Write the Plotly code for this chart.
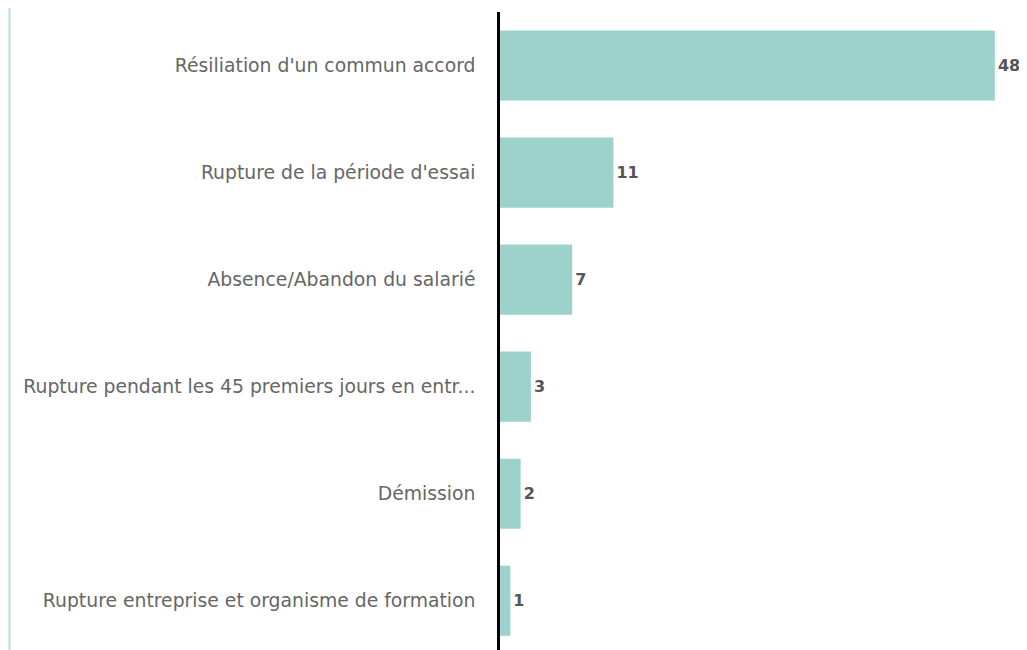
import plotly.graph_objects as go

# categories, top to bottom
motifs = [
    "Résiliation d'un commun accord",
    "Rupture de la période d'essai",
    "Absence/Abandon du salarié",
    "Rupture pendant les 45 premiers jours en entr...",
    "Démission",
    "Rupture entreprise et organisme de formation",
]
nombres = [48, 11, 7, 3, 2, 1]

# page has an 8px body margin, so the figure is a bit smaller than the window
W, H = 1019, 642
left, right, top = 492, 17, 4
plot_w = W - left - right

fig = go.Figure(go.Bar(
    x=nombres,
    y=motifs,
    orientation="h",
    marker=dict(color="#9dd1cc", line=dict(width=0)),
    text=nombres,
    textposition="outside",
    texttemplate="<b>%{text}</b>",
    textfont=dict(family="DejaVu Sans", size=16, color="#555555"),
    cliponaxis=False,
    width=0.655,
))

fig.update_layout(
    width=W, height=H,
    margin=dict(l=left, r=right, t=top, b=0),
    paper_bgcolor="white",
    plot_bgcolor="white",
    showlegend=False,
    xaxis=dict(range=[0, plot_w / 10.31], showgrid=False, zeroline=False,
               showticklabels=False, showline=False),
    yaxis=dict(range=[5.46, -0.5], showgrid=False, zeroline=False,
               showline=True, linecolor="black", linewidth=2.5,
               ticks="", ticklabelstandoff=18,
               tickfont=dict(family="DejaVu Sans", size=18.8, color="#666666")),
    font=dict(family="DejaVu Sans"),
)

# thin light border on the far left
edge = (1.5 - left) / plot_w
fig.add_shape(type="line", xref="paper", yref="paper",
              x0=edge, x1=edge, y0=-0.02, y1=1.05,
              line=dict(color="#b8e0dc", width=2))

fig.write_html("out.html")
